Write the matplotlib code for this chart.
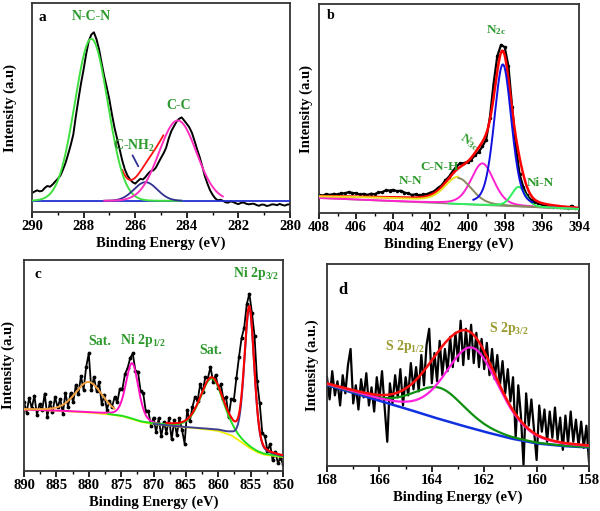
import numpy as np
import matplotlib.pyplot as plt
from matplotlib.ticker import MultipleLocator

plt.rcParams['font.family'] = ['Liberation Serif', 'DejaVu Serif']
plt.rcParams['font.weight'] = 'bold'
plt.rcParams['mathtext.fontset'] = 'custom'
plt.rcParams['mathtext.rm'] = 'Liberation Serif:bold'
plt.rcParams['mathtext.it'] = 'Liberation Serif:bold'
plt.rcParams['mathtext.bf'] = 'Liberation Serif:bold'
plt.rcParams['mathtext.default'] = 'rm'

# ---- panel a : C 1s (290 -> 280 eV, 0.1 eV steps) ----
a_y = [9.1, 9.8, 10.4, 9.9, 10.2, 11.6, 12.5, 12.1, 13.2, 14.6,
       15.9, 17.4, 20.3, 23.5, 27.6, 32.0, 37.0, 45.8, 53.9, 61.5,
       68.2, 75.6, 81.8, 84.9, 86.0, 82.7, 77.9, 71.2, 65.0, 59.6,
       53.8, 46.7, 40.3, 35.1, 29.9, 24.6, 20.4, 17.5, 15.6, 14.3,
       13.6, 14.8, 15.9, 15.6, 16.8, 18.4, 19.6, 19.9, 21.2, 23.6,
       25.9, 28.1, 30.8, 35.2, 38.7, 41.0, 43.2, 44.6, 45.3, 43.8,
       42.2, 40.5, 37.9, 34.1, 30.0, 26.3, 21.9, 17.2, 13.6, 10.5,
       8.3, 6.6, 5.6, 5.9, 5.4, 4.7, 4.5, 5.1, 4.8, 4.2,
       3.8, 4.4, 4.6, 4.0, 3.7, 3.9, 4.0, 3.4, 3.0, 3.6,
       3.5, 2.9, 3.2, 3.7, 3.6, 3.3, 3.9, 3.4, 3.1, 3.6, 3.7]
a_base = 5.4
a_centers = [287.7, 285.6, 284.35]      # N-C-N, C-NH2, C-C
a_heights = [77.5, 8.9, 38.4]
a_fwhm = [1.5, 1.07, 1.7]

# ---- panel b : N 1s (408 -> 394 eV, 0.2 eV steps) ----
b_y = [8.8, 8.4, 9.1, 8.7, 9.2, 8.9, 9.5, 9.4, 10.1, 9.6,
       9.5, 8.9, 9.2, 8.7, 9.3, 9.0, 9.9, 10.0, 10.9, 10.8,
       11.1, 10.5, 10.7, 9.8, 9.4, 8.7, 9.0, 8.5, 8.9, 9.0,
       9.8, 10.4, 12.0, 13.3, 15.6, 17.4, 20.1, 22.2, 23.9, 23.8,
       24.6, 25.6, 27.7, 29.3, 31.9, 35.2, 45.6, 62.0, 75.1, 80.5,
       79.4, 70.3, 50.8, 31.9, 18.5, 12.5, 8.5, 6.5, 5.3, 4.6,
       4.1, 3.6, 3.4, 3.1, 3.1, 2.8, 2.8, 2.5, 3.5, 2.2, 1.9]
b_bg_x = [408, 394]
b_bg_y = [7.2, 1.9]
b_broad = [404.5, 1.3, 8.0]            # centre, height, fwhm
b_names = ['C-N-H', 'N3c', 'N2c', 'Ni-N']
b_centers = [400.5, 399.2, 398.1, 397.25]
b_heights = [12.4, 19.9, 67.7, 9.4]
b_fwhm = [1.7, 1.45, 1.1, 0.9]

# ---- panel c : Ni 2p (890 -> 850 eV, 0.4 eV steps) ----
c_y = [32.7, 27.7, 34.7, 29.7, 35.7, 26.7, 31.7, 28.7, 36.7, 25.7,
       32.7, 27.9, 35.0, 30.1, 34.2, 27.2, 37.0, 30.5, 37.0, 32.5,
       40.7, 36.3, 45.0, 38.5, 49.3, 55.7, 38.3, 44.5, 38.0, 42.0,
       31.7, 36.0, 29.0, 33.2, 30.5, 35.0, 32.5, 39.0, 39.0, 46.0,
       48.8, 53.5, 55.7, 47.5, 47.0, 37.9, 37.0, 28.5, 28.5, 21.5,
       25.3, 18.5, 25.0, 16.5, 23.3, 18.2, 25.0, 15.0, 24.0, 17.0,
       25.0, 19.5, 13.0, 29.0, 23.5, 30.2, 35.0, 33.0, 41.0, 37.5,
       44.5, 44.0, 49.3, 42.3, 45.5, 39.2, 41.0, 34.0, 35.0, 25.5,
       34.0, 33.5, 44.0, 54.0, 63.0, 67.9, 79.0, 84.0, 75.0, 64.0,
       42.6, 32.0, 18.0, 16.5, 9.5, 12.8, 5.0, 9.0, 4.0, 6.0, 3.3]
c_bg_x = [890, 885, 880, 877, 875, 874, 872, 870, 867, 865, 862, 860,
          858, 857, 856, 855, 854, 853, 851, 850]
c_bg_y = [29.1, 28.6, 27.7, 26.9, 26.1, 25.3, 23.3, 22.2, 21.2, 20.7, 19.8, 19.0,
          16.9, 14.9, 12.7, 10.6, 8.9, 7.8, 7.0, 6.6]
c_centers = [880.0, 873.3, 861.0, 855.2]   # Sat., Ni 2p1/2, Sat., Ni 2p3/2
c_heights = [14.5, 26.5, 24.4, 66.1]
c_fwhm = [5.0, 2.3, 4.2, 1.8]

# ---- panel d : S 2p (168 -> 158 eV, 0.1 eV steps) ----
d_y = [44, 33, 47, 35, 42, 30, 45, 36, 50, 58,
       31, 40, 28, 43, 34, 46, 30, 39, 27, 44,
       33, 47, 29, 12, 41, 31, 45, 34, 48, 30,
       44, 35, 51, 38, 49, 37, 55, 40, 60, 68,
       41, 56, 42, 62, 45, 58, 47, 64, 49, 66,
       52, 72, 50, 68, 53, 70, 51, 66, 49, 63,
       48, 61, 45, 58, 43, 55, 40, 52, 36, 48,
       32, 44, 14, 40, 25, 0.5, 36, 20, 33, 18,
       3, 30, 17, 28, 12, 27, 14, 29, 13, 24,
       8, 25, 11, 27, 12, 23, 10, 22, 9, 20, 2]
d_bg_x = [168, 167, 166, 165, 164, 163, 162, 161, 160, 159, 158]
d_bg_y = [40.1, 36.3, 32.3, 28.5, 24.4, 20.6, 17.0, 13.7, 11.2, 9.9, 9.2]
d_centers = [163.7, 162.45]               # S 2p1/2, S 2p3/2
d_heights = [15.5, 40.0]
d_fwhm = [2.3, 2.4]


def peak(x, c, h, w, eta=0.3):
    g = np.exp(-4 * np.log(2) * ((x - c) / w) ** 2)
    l = 1.0 / (1 + 4 * ((x - c) / w) ** 2)
    return h * ((1 - eta) * g + eta * l)


def style(ax, xlim, major, minor, ylabel, lab_x):
    ax.set_xlim(*xlim)
    ax.set_ylim(0, 100)
    ax.xaxis.set_major_locator(MultipleLocator(major))
    ax.xaxis.set_minor_locator(MultipleLocator(minor))
    ax.set_yticks([])
    ax.tick_params(axis='x', which='major', direction='out', length=4, width=1.2,
                   labelsize=10.5, pad=2)
    ax.tick_params(axis='x', which='minor', direction='out', length=2.5, width=1)
    for s in ax.spines.values():
        s.set_linewidth(1.3)
        s.set_color('#333333')
    ax.set_xlabel('Binding Energy (eV)', fontsize=10.5, fontweight='bold', labelpad=2)
    ax.set_ylabel(ylabel, fontsize=10.5, fontweight='bold')
    ax.yaxis.set_label_coords(lab_x, 0.5)


fig = plt.figure(figsize=(6, 5.11), dpi=100)
lab_green = '#2e9a2e'

# ---------------- a ----------------
ax = fig.add_axes([0.0533, 0.585, 0.43, 0.409])
xa = np.linspace(290, 280, len(a_y))
ax.plot(xa, a_y, color='black', lw=1.4, zorder=2)
x = np.linspace(290, 280, 600)
ax.plot(x, np.full_like(x, a_base), color='#2030d0', lw=1.3, zorder=3)
comp_a = [peak(x, c, h, w, 0.0) for c, h, w in zip(a_centers, a_heights, a_fwhm)]
m = (x <= 286.5) & (x >= 284.9)
ax.plot(x[m], a_base + sum(comp_a)[m], color='#ff1010', lw=1.3, zorder=2.5)
m = x >= 284.2
ax.plot(x[m], a_base + comp_a[0][m], color='#40e040', lw=1.4, zorder=3)
m = (x <= 287.2) & (x >= 284.2)
ax.plot(x[m], a_base + comp_a[1][m], color='#303090', lw=1.3, zorder=3)
m = (x <= 287.2) & (x >= 282.6)
ax.plot(x[m], a_base + comp_a[2][m], color='#ff30c0', lw=1.4, zorder=3)
style(ax, (290, 280), 2, 1, 'Intensity (a.u)', -0.058)
ax.text(289.6, 93, 'a', fontsize=11, fontweight='bold', ha='center', va='center')
ax.text(287.7, 93.5, 'N-C-N', color=lab_green, fontsize=10, ha='center', va='center')
ax.text(284.3, 51, 'C-C', color=lab_green, fontsize=10, ha='center', va='center')
ax.text(286.05, 31.5, 'C-NH$_2$', color=lab_green, fontsize=10, ha='center', va='center')
ax.annotate('', xy=(285.83, 20.7), xytext=(286.15, 28.3),
            arrowprops=dict(arrowstyle='-', color='#303090', lw=1.3))

# ---------------- b ----------------
ax = fig.add_axes([0.5317, 0.583, 0.4333, 0.409])
xb = np.linspace(408, 394, len(b_y))
ax.plot(xb, b_y, color='black', lw=1.6, marker='.', ms=3, zorder=2)
x = np.linspace(408, 394, 700)
bg = np.interp(x, b_bg_x[::-1], b_bg_y[::-1])
broad = peak(x, *b_broad, 0.0)
comp_b = [peak(x, c, h, w) for c, h, w in zip(b_centers, b_heights, b_fwhm)]
ax.plot(x, bg, color='#8a8a70', lw=1.2, zorder=3)
ax.plot(x, bg + comp_b[1], color='#ff20d0', lw=1.4, zorder=3)
m = x >= 400.5
ax.plot(x[m], bg[m] + broad[m] + comp_b[0][m], color='#e8e020', lw=1.4, zorder=3)
m = x <= 400.5
ax.plot(x[m], bg[m] + comp_b[0][m], color='#8a8a60', lw=1.4, zorder=3)
m = x <= 401
ax.plot(x[m], bg[m] + comp_b[3][m], color='#30f060', lw=1.4, zorder=3)
m = (x <= 399.7) & (x >= 396.5)
ax.plot(x[m], bg[m] + comp_b[2][m], color='#1010e0', lw=1.4, zorder=3)
ax.plot(x, bg + broad + sum(comp_b), color='#ff0000', lw=1.8, zorder=2.5)
style(ax, (408, 394), 2, 1, 'Intensity (a.u)', -0.023)
ax.text(407.4, 94.5, 'b', fontsize=10, fontweight='bold', ha='center', va='center')
ax.text(398.45, 87.5, 'N$_{2c}$', color=lab_green, fontsize=9.5, ha='center', va='center')
ax.text(399.9, 34, 'N$_{3c}$', color=lab_green, fontsize=9.5, ha='center', va='center',
        rotation=-35)
ax.text(401.5, 22, 'C-N-H', color=lab_green, fontsize=9.5, ha='center', va='center')
ax.text(403.1, 15.2, 'N-N', color=lab_green, fontsize=9.5, ha='center', va='center')
ax.text(396.1, 14.3, 'Ni-N', color=lab_green, fontsize=9.5, ha='center', va='center')

# ---------------- c ----------------
ax = fig.add_axes([0.04, 0.0783, 0.4317, 0.413])
xc = np.linspace(890, 850, len(c_y))
ax.plot(xc, c_y, color='black', lw=1.3, marker='.', ms=3.5, zorder=2)
x = np.linspace(890, 850, 800)
bg = np.interp(x, c_bg_x[::-1], c_bg_y[::-1])
comp_c = [peak(x, c, h, w) for c, h, w in zip(c_centers, c_heights, c_fwhm)]
ax.plot(x, bg, color='#f0f000', lw=1.3, zorder=3)
m = x >= 866
ax.plot(x[m], bg[m] + comp_c[1][m], color='#ff10c0', lw=1.4, zorder=3)
m = x <= 877
ax.plot(x[m], bg[m] + comp_c[2][m], color='#20e020', lw=1.4, zorder=3)
m = x <= 870
ax.plot(x[m], bg[m] + comp_c[3][m], color='#404090', lw=1.4, zorder=3)
m = x >= 876
ax.plot(x[m], bg[m] + comp_c[0][m], color='#f0a040', lw=1.4, zorder=3)
m = x <= 868
ax.plot(x[m], bg[m] + sum(comp_c)[m], color='#ff0000', lw=1.5, zorder=3.5)
style(ax, (890, 850), 5, 2.5, 'Intensity (a.u)', -0.035)
ax.text(887.8, 93, 'c', fontsize=11, fontweight='bold', ha='center', va='center')
ax.text(878.3, 61.2, 'Sat.', color=lab_green, fontsize=10, ha='center', va='center')
ax.text(871.6, 62, 'Ni 2p$_{1/2}$', color=lab_green, fontsize=10, ha='center', va='center')
ax.text(861.1, 57.3, 'Sat.', color=lab_green, fontsize=10, ha='center', va='center')
ax.text(854.1, 93.7, 'Ni 2p$_{3/2}$', color=lab_green, fontsize=10, ha='center', va='center')

# ---------------- d ----------------
ax = fig.add_axes([0.545, 0.088, 0.4367, 0.395])
xd = np.linspace(168, 158, len(d_y))
ax.plot(xd, d_y, color='black', lw=1.6, zorder=2)
x = np.linspace(168, 158, 600)
bg = np.interp(x, d_bg_x[::-1], d_bg_y[::-1])
comp_d = [peak(x, c, h, w) for c, h, w in zip(d_centers, d_heights, d_fwhm)]
ax.plot(x, bg, color='#1030e0', lw=1.8, zorder=3)
ax.plot(x, bg + comp_d[0], color='#109010', lw=1.6, zorder=3)
ax.plot(x, bg + comp_d[1], color='#ff20e0', lw=1.6, zorder=3)
ax.plot(x, bg + sum(comp_d), color='#ff1010', lw=1.8, zorder=3)
style(ax, (168, 158), 2, 1, 'Intensity (a.u.)', -0.031)
ax.text(167.4, 87, 'd', fontsize=12, fontweight='bold', ha='center', va='center')
ax.text(161.8, 68.2, 'S 2p$_{3/2}$', color='#9a9a30', fontsize=10, ha='left', va='center')
ax.text(165.8, 59.1, 'S 2p$_{1/2}$', color='#9a9a30', fontsize=10, ha='left', va='center')

fig.savefig('out.png', dpi=100)
